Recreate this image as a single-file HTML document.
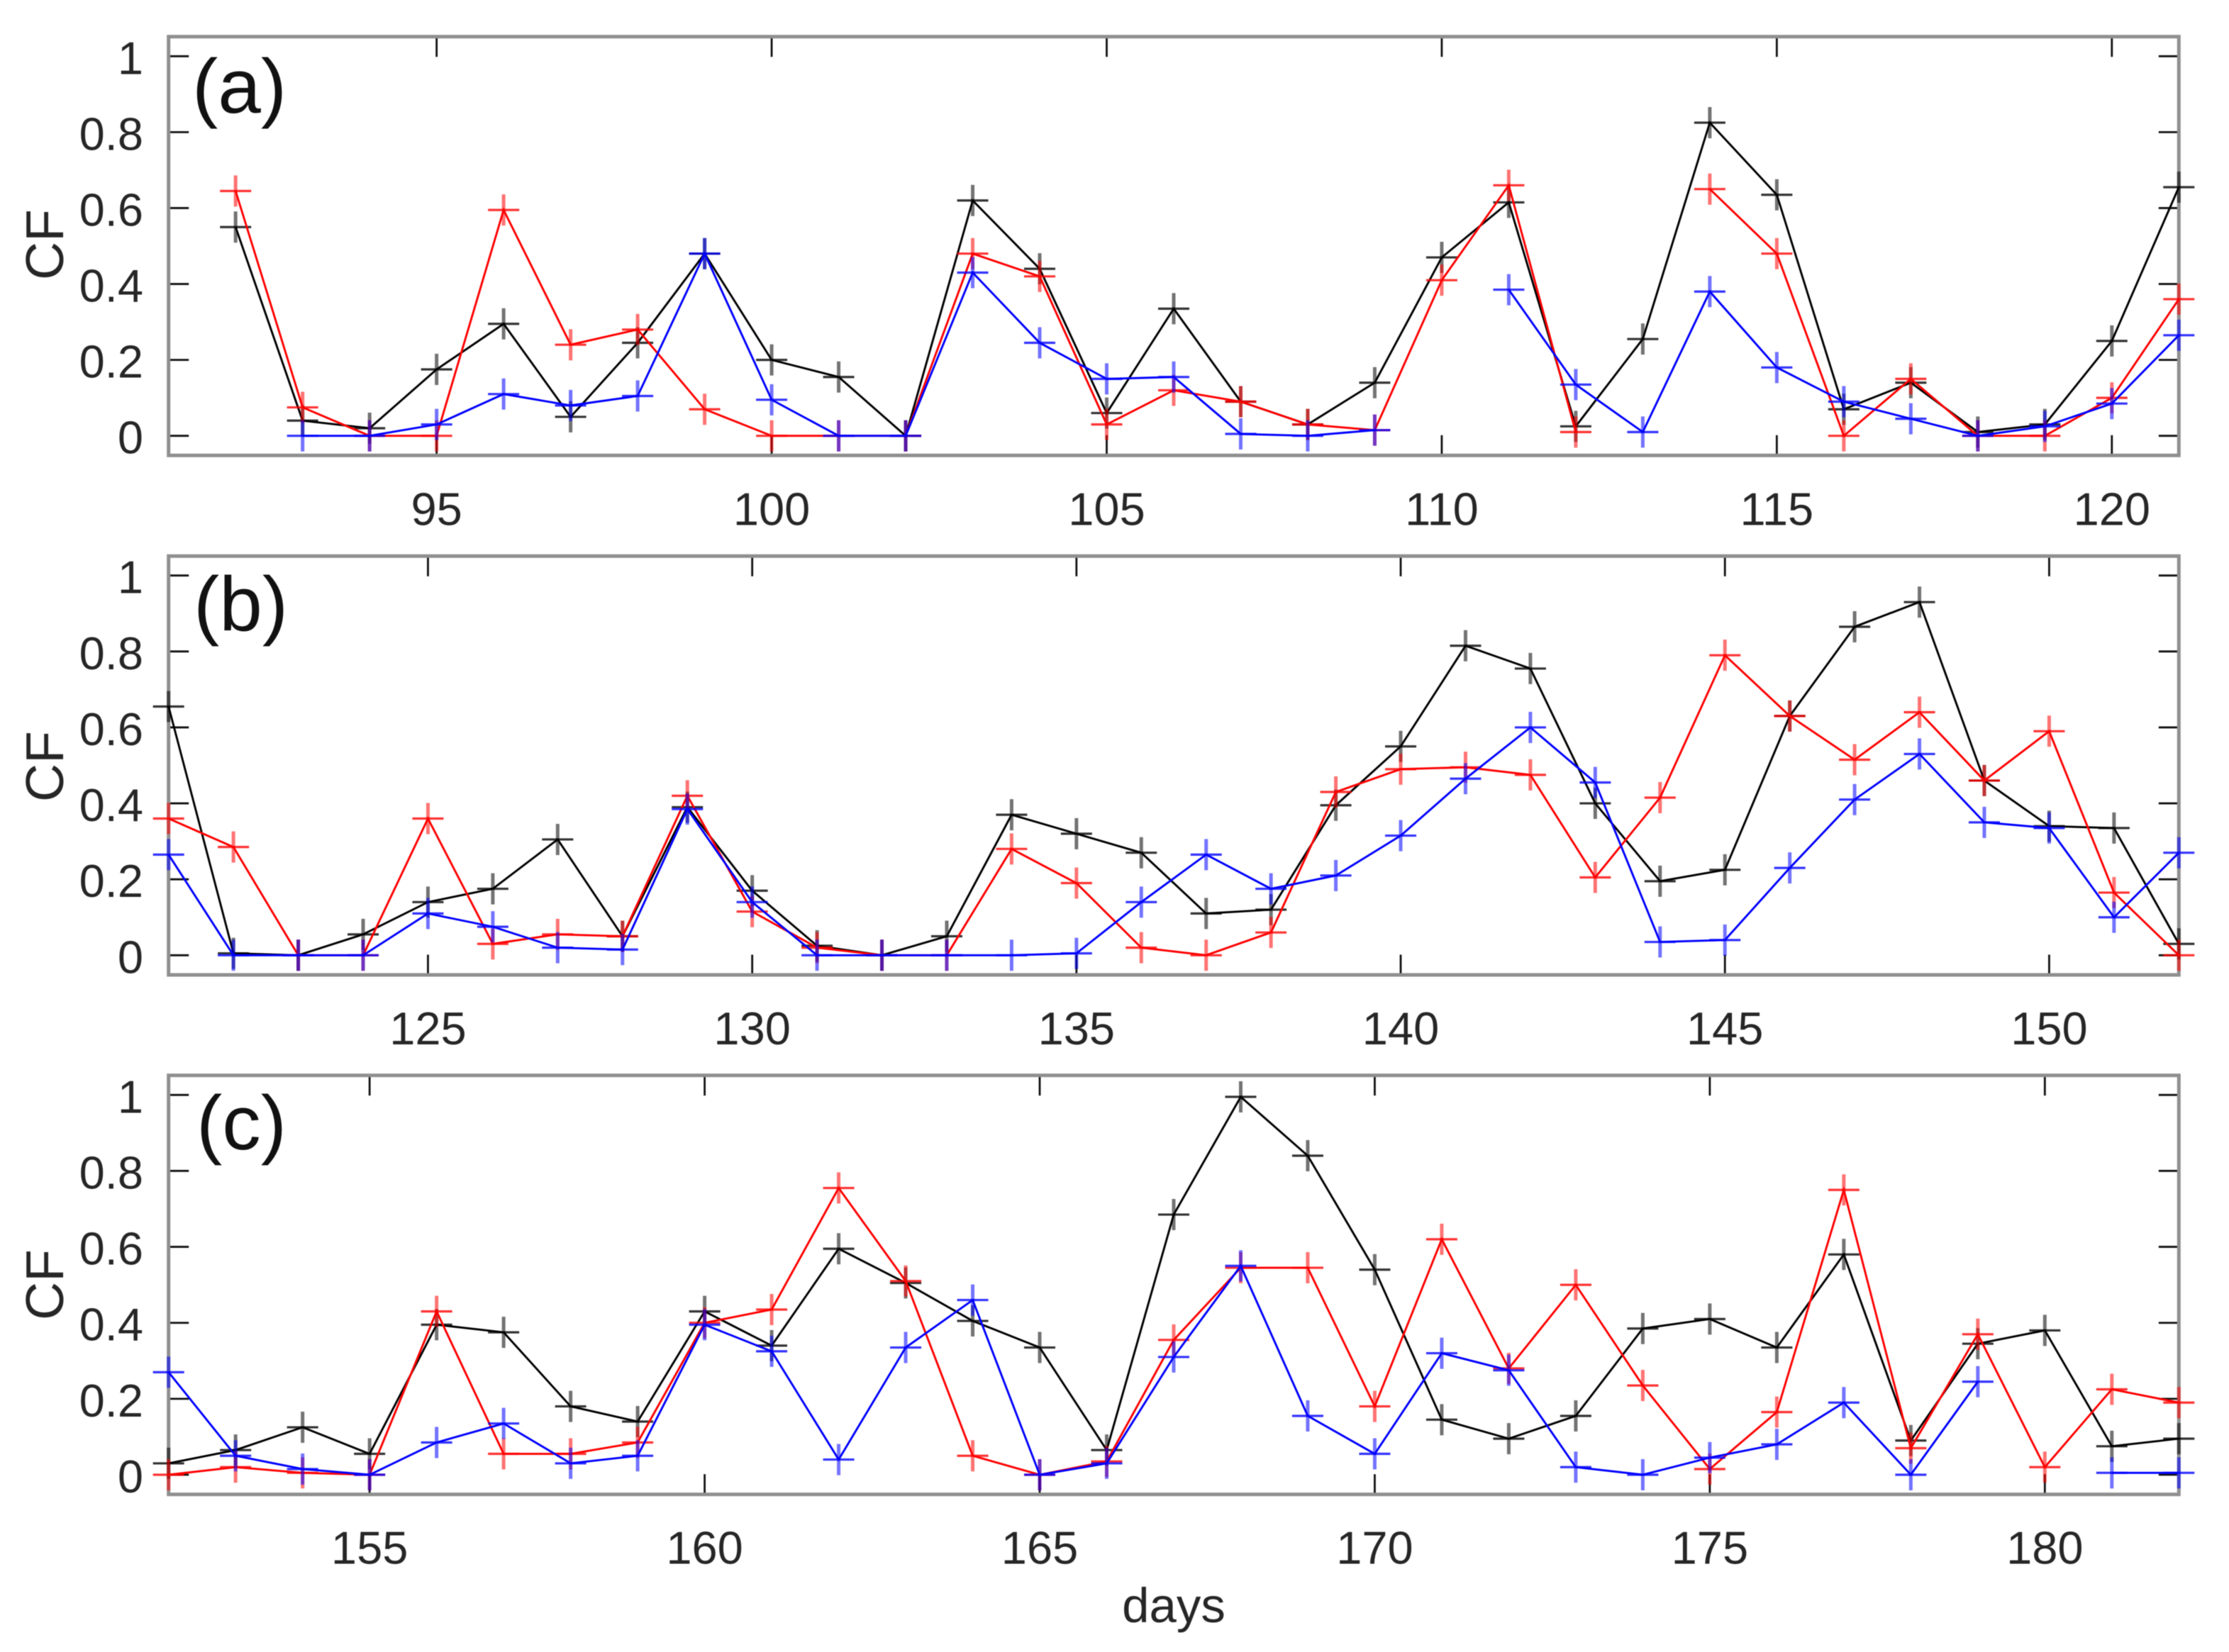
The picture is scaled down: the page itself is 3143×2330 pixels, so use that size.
<!DOCTYPE html>
<html lang="en">
<head>
<meta charset="utf-8">
<title>CF time series</title>
<style>
html,body{margin:0;padding:0;background:#fff;}
svg{display:block;filter:blur(0.6px);}
text{font-family:"Liberation Sans",sans-serif;fill:#262626;}
</style>
</head>
<body>
<svg id="chart" xmlns="http://www.w3.org/2000/svg" width="3143" height="2330" viewBox="0 0 3143 2330">
  <rect x="0" y="0" width="3143" height="2330" fill="#fff"/>
  <g id="marks"></g>
  <text x="271" y="159" font-size="109" style="fill:#111">(a)</text>
  <text x="273" y="889" font-size="109" style="fill:#111">(b)</text>
  <text x="277" y="1621" font-size="109" style="fill:#111">(c)</text>
  <text transform="translate(89,345) rotate(-90)" text-anchor="middle" font-size="75">CF</text>
  <text transform="translate(89,1081) rotate(-90)" text-anchor="middle" font-size="75">CF</text>
  <text transform="translate(89,1812) rotate(-90)" text-anchor="middle" font-size="75">CF</text>
  <text x="1655" y="2288" text-anchor="middle" font-size="69">days</text>
</svg>
<script>
// Shared y axis
const yTicks = [0, 0.2, 0.4, 0.6, 0.8, 1];
const yTickLabels = ['0', '0.2', '0.4', '0.6', '0.8', '1'];

// Panel (a): days 92-121
const daysA = [92,93,94,95,96,97,98,99,100,101,102,103,104,105,106,107,108,109,110,111,112,113,114,115,116,117,118,119,120,121];
const blackA = [0.55,0.04,0.02,0.175,0.295,0.05,0.245,0.48,0.2,0.155,0,0.62,0.44,0.06,0.335,0.09,0.03,0.14,0.47,0.615,0.025,0.255,0.825,0.635,0.07,0.14,0.01,0.03,0.25,0.655];
const redA = [0.645,0.075,0,0,0.595,0.24,0.28,0.07,0,0,0,0.48,0.42,0.03,0.12,0.09,0.03,0.015,0.41,0.66,0.01,null,0.65,0.48,0,0.15,0,0,0.1,0.36];
const blueA = [null,0,0,0.03,0.11,0.08,0.105,0.48,0.095,0,0,0.43,0.245,0.15,0.155,0.005,0,0.015,null,0.385,0.135,0.01,0.38,0.18,0.09,0.045,0,0.025,0.085,0.265];
const xTicksA = [95,100,105,110,115,120];

// Panel (b): days 121-152
const daysB = [121,122,123,124,125,126,127,128,129,130,131,132,133,134,135,136,137,138,139,140,141,142,143,144,145,146,147,148,149,150,151,152];
const blackB = [0.655,0.005,0,0.055,0.14,0.175,0.305,0.05,0.39,0.17,0.025,0,0.05,0.37,0.32,0.27,0.11,0.12,0.395,0.55,0.815,0.755,0.4,0.195,0.225,0.63,0.865,0.93,0.46,0.34,0.335,0.03];
const redB = [0.36,0.285,0,0,0.36,0.03,0.055,0.05,0.42,0.115,0.02,0,0,0.28,0.19,0.02,0,0.06,0.43,0.49,0.495,0.475,0.205,0.415,0.79,0.63,0.515,0.64,0.46,0.59,0.165,0];
const blueB = [0.265,0,0,0,0.11,0.075,0.02,0.015,0.385,0.14,0,0,0,0,0.005,0.14,0.265,0.175,0.21,0.315,0.465,0.6,0.455,0.035,0.04,0.23,0.41,0.53,0.35,0.335,0.1,0.27];
const xTicksB = [125,130,135,140,145,150];

// Panel (c): days 152-182
const daysC = [152,153,154,155,156,157,158,159,160,161,162,163,164,165,166,167,168,169,170,171,172,173,174,175,176,177,178,179,180,181,182];
const blackC = [0.03,0.065,0.125,0.055,0.395,0.375,0.18,0.14,0.43,0.34,0.595,0.505,0.405,0.335,0.065,0.685,0.995,0.84,0.54,0.145,0.095,0.155,0.385,0.41,0.335,0.58,0.09,0.345,0.38,0.075,0.095];
const redC = [0,0.02,0.005,0,0.43,0.055,0.055,0.085,0.4,0.435,0.755,0.51,0.05,0,0.035,0.355,0.545,0.545,0.18,0.62,0.28,0.5,0.235,0.015,0.165,0.75,0.07,0.37,0.02,0.225,0.19];
const blueC = [0.27,0.05,0.015,0,0.085,0.135,0.03,0.05,0.395,0.325,0.04,0.335,0.46,0,0.03,0.31,0.55,0.155,0.055,0.32,0.275,0.02,0,0.045,0.08,0.19,0,0.245,null,0.005,0.005];
const xTicksC = [155,160,165,170,175,180];

const frameLeft = 237.7, frameRight = 3072.3;
const NS = 'http://www.w3.org/2000/svg';
const root = document.getElementById('marks');

function mk(parent, tag, attrs) {
  const el = document.createElementNS(NS, tag);
  for (const k in attrs) el.setAttribute(k, attrs[k]);
  parent.appendChild(el);
  return el;
}

function drawPanel(p) {
  const xScale = d => frameLeft + (d - p.xMin) / (p.xMax - p.xMin) * (frameRight - frameLeft);
  const yScale = v => p.y0 + (p.y1 - p.y0) * v;

  const g = mk(root, 'g', {});
  
  

  // ticks
  const tickLen = 28.5;
  yTicks.forEach((v, i) => {
    const y = yScale(v);
    const t1 = mk(g, 'line', {x1: frameLeft, x2: frameLeft + tickLen, y1: y, y2: y, stroke: '#111', 'stroke-width': 2.8});
    
    
    const t2 = mk(g, 'line', {x1: frameRight - tickLen, x2: frameRight, y1: y, y2: y, stroke: '#111', 'stroke-width': 2.8});
    
    
    const lab = mk(g, 'text', {x: 202, y: y + 25, 'text-anchor': 'end', 'font-size': 65});
    lab.textContent = yTickLabels[i];
    
    
  });
  p.xTicks.forEach(d => {
    const x = xScale(d);
    const t1 = mk(g, 'line', {x1: x, x2: x, y1: p.top, y2: p.top + tickLen, stroke: '#111', 'stroke-width': 2.8});
    
    
    const t2 = mk(g, 'line', {x1: x, x2: x, y1: p.bottom - tickLen, y2: p.bottom, stroke: '#111', 'stroke-width': 2.8});
    
    
    const lab = mk(g, 'text', {x: x, y: p.bottom + 98, 'text-anchor': 'middle', 'font-size': 65});
    lab.textContent = String(d);
    
    
  });

  // frame
  const frame = mk(g, 'rect', {x: frameLeft, y: p.top, width: frameRight - frameLeft, height: p.bottom - p.top, fill: 'none', stroke: '#8f8f8f', 'stroke-width': 5});
  
  

  // series
  p.series.forEach(s => {
    const sg = mk(g, 'g', {});
    
    
    let d = '';
    let open = false;
    s.values.forEach((v, i) => {
      if (v === null) { open = false; return; }
      d += (open ? 'L' : 'M') + xScale(p.days[i]).toFixed(2) + ' ' + yScale(v).toFixed(2);
      open = true;
    });
    const path = mk(sg, 'path', {d: d, fill: 'none', stroke: s.color, 'stroke-width': 2.9, 'stroke-linejoin': 'miter'});
    
    
    s.values.forEach((v, i) => {
      if (v === null) return;
      const x = xScale(p.days[i]);
      const y = yScale(v);
      const mark = mk(sg, 'g', {});
      
      
      mk(mark, 'line', {x1: x - 22, x2: x + 22, y1: y, y2: y, stroke: s.color, 'stroke-width': 3.2, 'stroke-opacity': 0.8});
      mk(mark, 'line', {x1: x, x2: x, y1: y - 22, y2: y + 22, stroke: s.color, 'stroke-width': 5, 'stroke-opacity': 0.55});
    });
  });
}

drawPanel({id: 'a', top: 51.7, bottom: 642.3, y0: 614.7, y1: 79.3, xMin: 91, xMax: 121, days: daysA, xTicks: xTicksA,
  series: [{name: 'black', color: '#000', values: blackA}, {name: 'red', color: '#f00', values: redA}, {name: 'blue', color: '#00f', values: blueA}]});
drawPanel({id: 'b', top: 784.3, bottom: 1375, y0: 1347.3, y1: 811.7, xMin: 121, xMax: 152, days: daysB, xTicks: xTicksB,
  series: [{name: 'black', color: '#000', values: blackB}, {name: 'red', color: '#f00', values: redB}, {name: 'blue', color: '#00f', values: blueB}]});
drawPanel({id: 'c', top: 1516.7, bottom: 2107.7, y0: 2080, y1: 1544.3, xMin: 152, xMax: 182, days: daysC, xTicks: xTicksC,
  series: [{name: 'black', color: '#000', values: blackC}, {name: 'red', color: '#f00', values: redC}, {name: 'blue', color: '#00f', values: blueC}]});
</script>
</body>
</html>
